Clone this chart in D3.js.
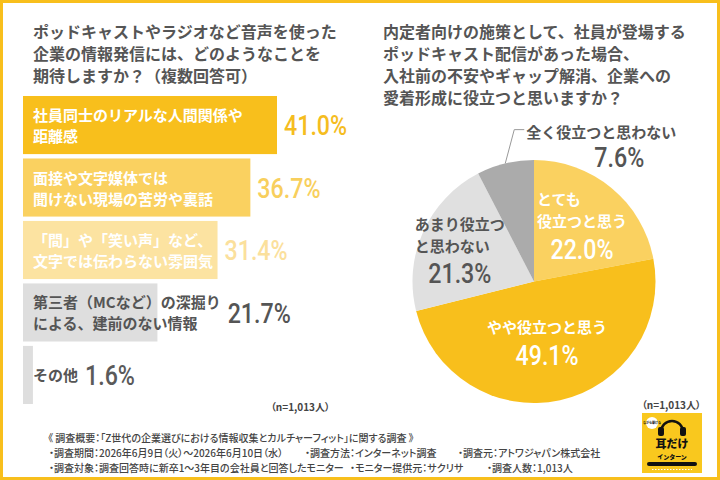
<!DOCTYPE html>
<html>
<head>
<meta charset="utf-8">
<script src="https://cdn.jsdelivr.net/npm/d3@7"></script>
<style>
body { margin: 0; background: #fff; }
svg { display: block; font-family: "Noto Sans CJK JP", "Noto Sans", sans-serif; }
.num { font-family: Roboto, "DejaVu Sans", sans-serif; font-weight: 500; }
.palt { font-feature-settings: "palt"; }
</style>
</head>
<body>
<svg id="chart" width="720" height="480"></svg>
<script>

	// left: bar chart
	var barTitle = ["ポッドキャストやラジオなど音声を使った", "企業の情報発信には、どのようなことを", "期待しますか？（複数回答可）"];
	var barLabels = [
		["社員同士のリアルな人間関係や", "距離感"],
		["面接や文字媒体では", "聞けない現場の苦労や裏話"],
		["「間」や「笑い声」など、", "文字では伝わらない雰囲気"],
		["第三者（MCなど）の深掘り", "による、建前のない情報"],
		["その他"]
	];
	var barValues = [41.0, 36.7, 31.4, 21.7, 1.6];
	var barColors = ["#f8bf1c", "#fad160", "#fce3a1", "#dedede", "#dedede"];
	var barText = ["#fff", "#fff", "#fff", "#555", "#555"];
	var barValueColors = ["#f5bd1f", "#f8cf5d", "#fbe09c", "#555", "#5a5a5a"];

	// right: pie chart
	var pieTitle = ["内定者向けの施策として、社員が登場する", "ポッドキャスト配信があった場合、", "入社前の不安やギャップ解消、企業への", "愛着形成に役立つと思いますか？"];
	var pieLabels = [["とても", "役立つと思う"], ["やや役立つと思う"], ["あまり役立つ", "と思わない"], ["全く役立つと思わない"]];
	var pieValues = [22.0, 49.1, 21.3, 7.6];
	var pieColors = ["#fad160", "#f8bf1c", "#e0e0e0", "#ababab"];
	var pieText = ["#fff", "#fff", "#555", "#555"];
	var pieLabelRadius = [0.62, 0.5, 0.67, null];

	var sample = "（n=1,013人）";
	var footer = [
		["《 調査概要：「Z世代の企業選びにおける情報収集とカルチャーフィット」に関する調査 》"],
		["・調査期間：2026年6月9日（火）～2026年6月10日（水）", "・調査方法：インターネット調査", "・調査元：アトワジャパン株式会社"],
		["・調査対象：調査回答時に新卒1～3年目の会社員と回答したモニター", "・モニター提供元：サクリサ", "・調査人数：1,013人"]
	];
	var footerX = [[48], [49, 305, 458], [49, 350, 487]];

	var svg = d3.select("#chart");
	var grey = "#555";
	var squeeze = 0.86;

	svg.append("rect").attr("width", 720).attr("height", 480).attr("fill", "#fff");
	svg.append("rect").attr("x", 1.5).attr("y", 1.5).attr("width", 717).attr("height", 477)
		.attr("fill", "none").attr("stroke", "#f8bf1c").attr("stroke-width", 3);

	function title(lines, x){
		svg.append("g").selectAll("text").data(lines).enter().append("text")
			.attr("x", x).attr("y", function(d, i){ return 31 + i * 22; })
			.attr("dominant-baseline", "central")
			.style("font-size", "16px").style("font-weight", 700).style("fill", grey)
			.text(function(d){ return d; })
	}
	title(barTitle, 33);
	title(pieTitle, 383);

	// big condensed percentage
	function pct(parent, v, px, py, anchor, color){
		return parent.append("text").attr("class", "num")
			.attr("transform", "translate(" + px + "," + py + ") scale(" + squeeze + ",1)")
			.attr("text-anchor", anchor).attr("dominant-baseline", "central")
			.style("font-size", "27px").style("fill", color)
			.text(v.toFixed(1) + "%")
	}

	// bars
	var x = d3.scaleLinear().domain([0, 41]).range([23, 277]);
	var y = d3.scaleBand().domain(d3.range(barValues.length)).range([96, 404]).paddingInner(0.07);

	var bars = svg.append("g").selectAll("g").data(barValues).enter().append("g");

	bars.append("rect")
		.attr("x", x(0))
		.attr("y", function(d, i){ return y(i); })
		.attr("width", function(d){ return x(d) - x(0); })
		.attr("height", y.bandwidth())
		.attr("fill", function(d, i){ return barColors[i]; })

	bars.each(function(d, i){
		var g = d3.select(this);
		var lines = barLabels[i];
		var cy = y(i) + y.bandwidth() / 2;
		var maxW = 0;
		lines.forEach(function(line, j){
			var t = g.append("text")
				.attr("x", x(0) + 10)
				.attr("y", cy + (j - (lines.length - 1) / 2) * 21)
				.attr("dominant-baseline", "central")
				.style("font-size", "15px").style("font-weight", 700)
				.style("fill", barText[i])
				.text(line)
			maxW = Math.max(maxW, t.node().getComputedTextLength());
		})
		var vx = Math.max(x(d), x(0) + 10 + maxW) + 7;
		pct(g, d, vx, cy + 1, "start", barValueColors[i]);
	})

	svg.append("text").attr("class", "palt")
		.attr("x", 330).attr("y", 406).attr("text-anchor", "end").attr("dominant-baseline", "central")
		.style("font-size", "10px").style("font-weight", 700).style("fill", "#444")
		.text(sample)

	// pie
	var cx = 534, cy = 281.5, r = 121.5;
	var pie = d3.pie().sort(null).value(function(d){ return d; });
	var arc = d3.arc().innerRadius(0).outerRadius(r);
	var arcs = pie(pieValues);
	var pg = svg.append("g").attr("transform", "translate(" + cx + "," + cy + ")");

	pg.selectAll("path").data(arcs).enter().append("path")
		.attr("d", arc)
		.attr("fill", function(d, i){ return pieColors[i]; })

	arcs.forEach(function(d, i){
		var lines = pieLabels[i];
		if(pieLabelRadius[i] != null){
			var lr = r * pieLabelRadius[i];
			var c = d3.arc().innerRadius(lr).outerRadius(lr).centroid(d);
			var span = (lines.length - 1) * 22 + 28;
			var top = c[1] - span / 2;
			var lab = pg.append("g");
			var w = 0;
			lines.forEach(function(line, j){
				var t = lab.append("text").attr("y", top + j * 22)
					.attr("dominant-baseline", "central")
					.style("font-size", "15px").style("font-weight", 700).style("fill", pieText[i])
					.text(line)
				w = Math.max(w, t.node().getComputedTextLength());
			})
			lab.selectAll("text").attr("x", c[0] - w / 2);
			pct(pg, pieValues[i], c[0], top + span + 1, "middle", pieText[i]);
		} else {
			// outside label with leader line
			var mid = (d.startAngle + d.endAngle) / 2;
			var sx = Math.sin(mid) * r, sy = -Math.cos(mid) * r;
			var ey = -r * 1.25;
			var ex = sx + 9;
			pg.append("path")
				.attr("d", "M" + sx + "," + sy + "L" + ex + "," + ey + "L" + (ex + 10) + "," + ey)
				.attr("fill", "none").attr("stroke", "#999").attr("stroke-width", 1)
			var t = pg.append("text").attr("x", ex + 12).attr("y", ey + 2)
				.attr("dominant-baseline", "central")
				.style("font-size", "15px").style("font-weight", 700).style("fill", pieText[i])
				.text(lines[0])
			var tw = t.node().getComputedTextLength();
			pct(pg, pieValues[i], ex + 12 + tw / 2 + 18, ey + 28, "middle", pieText[i]);
		}
	})

	svg.append("text").attr("class", "palt")
		.attr("x", 701).attr("y", 404).attr("text-anchor", "end").attr("dominant-baseline", "central")
		.style("font-size", "10px").style("font-weight", 700).style("fill", "#444")
		.text(sample)

	// footer
	footer.forEach(function(row, i){
		row.forEach(function(s, j){
			svg.append("text").attr("class", "palt")
				.attr("x", footerX[i][j]).attr("y", 437 + i * 15)
				.attr("dominant-baseline", "central")
				.style("font-size", "10px").style("font-weight", 500).style("fill", "#444")
				.text(s)
		})
	})

	// logo
	var logo = svg.append("g").attr("transform", "translate(642,413)");
	logo.append("rect").attr("width", 60).attr("height", 60).attr("fill", "#f9c81e");
	logo.append("circle").attr("cx", 10).attr("cy", 10).attr("r", 6).attr("fill", "#fff");
	logo.append("text").attr("x", 10).attr("y", 10).attr("text-anchor", "middle").attr("dominant-baseline", "central")
		.style("font-size", "3px").style("font-weight", 700).text("ながら聞ける");
	logo.append("path").attr("d", "M19,19 A11,11 0 0 1 41,19").attr("fill", "none").attr("stroke", "#111").attr("stroke-width", 2.5);
	logo.append("rect").attr("x", 16).attr("y", 14).attr("width", 6).attr("height", 9).attr("rx", 2).attr("fill", "#111");
	logo.append("rect").attr("x", 38).attr("y", 14).attr("width", 6).attr("height", 9).attr("rx", 2).attr("fill", "#111");
	logo.append("text").attr("x", 30).attr("y", 30).attr("text-anchor", "middle").attr("dominant-baseline", "central")
		.style("font-size", "11px").style("font-weight", 900).style("fill", "#111").text("耳だけ");
	logo.append("text").attr("x", 30).attr("y", 43).attr("text-anchor", "middle").attr("dominant-baseline", "central")
		.style("font-size", "6px").style("font-weight", 900).style("fill", "#111").text("インターン");
	logo.append("rect").attr("x", 5).attr("y", 49).attr("width", 50).attr("height", 4).attr("rx", 2).attr("fill", "#111");
	logo.append("line").attr("x1", 10).attr("x2", 50).attr("y1", 56.5).attr("y2", 56.5)
		.attr("stroke", "#fff").attr("stroke-width", 1).attr("stroke-dasharray", "1.5,1.5");

</script>
</body>
</html>
